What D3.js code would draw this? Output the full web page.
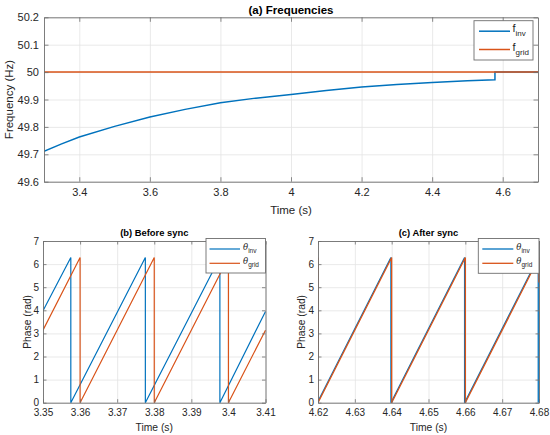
<!DOCTYPE html>
<html><head><meta charset="utf-8">
<script src="https://cdn.jsdelivr.net/npm/d3@7/dist/d3.min.js"></script>
<style>
html,body{margin:0;padding:0;background:#fff;}
svg{display:block;font-family:"Liberation Sans",Arial,Helvetica,sans-serif;}
</style></head>
<body>
<svg id="c" width="550" height="435"></svg>
<script>
// ---------- DATA ----------
// (a) Frequencies
const freqTime = [3.3, 3.35, 3.4, 3.5, 3.6, 3.7, 3.8, 3.9, 4.0, 4.1, 4.2, 4.3, 4.4, 4.5, 4.578, 4.578, 4.7];
const fInv     = [49.711, 49.738, 49.763, 49.802, 49.836, 49.864, 49.888, 49.905, 49.918, 49.933, 49.946, 49.955, 49.962, 49.968, 49.972, 50, 50];
const gridTime = [3.3, 4.7];
const fGrid    = [50, 50];
const freqXTicks = [3.4, 3.6, 3.8, 4.0, 4.2, 4.4, 4.6];
const freqYTicks = [49.6, 49.7, 49.8, 49.9, 50.0, 50.1, 50.2];

// (b) Before sync
const beforeInvTime  = [3.35, 3.3575, 3.3575, 3.3776, 3.3776, 3.3977, 3.3977, 3.41];
const beforeInv      = [3.98, 6.283, 0, 6.283, 0, 6.283, 0, 3.95];
const beforeGridTime = [3.35, 3.36, 3.36, 3.38, 3.38, 3.40, 3.40, 3.41];
const beforeGrid     = [3.14, 6.283, 0, 6.283, 0, 6.283, 0, 3.14];
const beforeXTicks   = [3.35, 3.36, 3.37, 3.38, 3.39, 3.40, 3.41];

// (c) After sync
const afterInvTime  = [4.62, 4.6398, 4.6398, 4.6598, 4.6598, 4.6798, 4.6798];
const afterInv      = [0.06, 6.283, 0, 6.283, 0, 6.283, 0];
const afterGridTime = [4.62, 4.62, 4.64, 4.64, 4.66, 4.66, 4.68, 4.68];
const afterGrid     = [6.283, 0, 6.283, 0, 6.283, 0, 6.283, 5.2];
const afterXTicks   = [4.62, 4.63, 4.64, 4.65, 4.66, 4.67, 4.68];

const phaseYTicks = [0, 1, 2, 3, 4, 5, 6, 7];

// ---------- DRAW ----------
const BLUE = "#0072BD", ORANGE = "#D95319", TXT = "#262626", AX = "#6e6e6e", GRID = "#e3e3e3";
const svg = d3.select("#c");
let clipId = 0;

function fmt(d){ return String(+d.toFixed(2)); }

function panel(o){
  const g = svg.append("g");
  const x = d3.scaleLinear().domain(o.xDomain).range([o.x0, o.x1]);
  const y = d3.scaleLinear().domain(o.yDomain).range([o.y1, o.y0]);
  const W = o.x1 - o.x0, H = o.y1 - o.y0;

  // grid
  g.append("g").attr("transform", `translate(0,${o.y1})`)
    .call(d3.axisBottom(x).tickValues(o.xTicks).tickSize(-H).tickFormat(""))
    .call(s => { s.select(".domain").remove(); s.selectAll("line").attr("stroke", GRID).attr("stroke-width", 0.8); });
  g.append("g").attr("transform", `translate(${o.x0},0)`)
    .call(d3.axisLeft(y).tickValues(o.yTicks).tickSize(-W).tickFormat(""))
    .call(s => { s.select(".domain").remove(); s.selectAll("line").attr("stroke", GRID).attr("stroke-width", 0.8); });

  // lines
  const id = "clip" + (clipId++);
  g.append("clipPath").attr("id", id).append("rect")
    .attr("x", o.x0).attr("y", o.y0 - 1).attr("width", W + 1).attr("height", H + 2);
  const lg = g.append("g").attr("clip-path", `url(#${id})`);
  o.series.forEach(s => {
    const pts = s.t.map((t, i) => [t, s.v[i]]);
    lg.append("path").datum(pts)
      .attr("fill", "none").attr("stroke", s.color).attr("stroke-width", s.w)
      .attr("stroke-linejoin", "miter")
      .attr("d", d3.line().x(d => x(d[0])).y(d => y(d[1])));
  });

  const tl = o.tickLen;
  // axes with inward ticks
  const styleAx = s => {
    s.select(".domain").attr("stroke", AX).attr("stroke-width", 0.9);
    s.selectAll(".tick line").attr("stroke", AX).attr("stroke-width", 0.8);
    s.selectAll(".tick text").attr("fill", TXT).attr("font-size", o.tickFont).attr("font-family", null);
  };
  g.append("g").attr("transform", `translate(0,${o.y1})`)
    .call(d3.axisBottom(x).tickValues(o.xTicks).tickSizeInner(-tl).tickSizeOuter(0).tickPadding(o.xPad).tickFormat(fmt))
    .call(styleAx);
  g.append("g").attr("transform", `translate(0,${o.y0})`)
    .call(d3.axisTop(x).tickValues(o.xTicks).tickSizeInner(-tl).tickSizeOuter(0).tickFormat(""))
    .call(styleAx);
  g.append("g").attr("transform", `translate(${o.x0},0)`)
    .call(d3.axisLeft(y).tickValues(o.yTicks).tickSizeInner(-tl).tickSizeOuter(0).tickPadding(o.yPad).tickFormat(fmt))
    .call(styleAx);
  g.append("g").attr("transform", `translate(${o.x1},0)`)
    .call(d3.axisRight(y).tickValues(o.yTicks).tickSizeInner(-tl).tickSizeOuter(0).tickFormat(""))
    .call(styleAx);

  // labels
  g.append("text").attr("x", (o.x0 + o.x1) / 2).attr("y", o.titleY)
    .attr("text-anchor", "middle").attr("font-weight", "bold").attr("font-size", o.titleFont).attr("fill", "#000")
    .text(o.title);
  g.append("text").attr("x", (o.x0 + o.x1) / 2).attr("y", o.xLabelY)
    .attr("text-anchor", "middle").attr("font-size", o.labelFont).attr("fill", TXT).text(o.xLabel);
  g.append("text").attr("transform", `translate(${o.yLabelX},${(o.y0 + o.y1) / 2}) rotate(-90)`)
    .attr("text-anchor", "middle").attr("font-size", o.labelFont).attr("fill", TXT).text(o.yLabel);

  // legend
  const L = o.legend;
  const lgd = g.append("g");
  lgd.append("rect").attr("x", L.x).attr("y", L.y).attr("width", L.w).attr("height", L.h)
    .attr("fill", "#fff").attr("stroke", AX).attr("stroke-width", 0.9);
  L.items.forEach((it, i) => {
    const yy = L.y + L.first + i * L.step;
    lgd.append("line").attr("x1", L.x + L.lx0).attr("x2", L.x + L.lx1).attr("y1", yy).attr("y2", yy)
      .attr("stroke", it.color).attr("stroke-width", it.w);
    const t = lgd.append("text").attr("x", L.x + L.tx).attr("y", yy + L.baseOff).attr("fill", TXT)
      .attr("font-size", L.font);
    t.append("tspan").attr("font-style", it.italic ? "italic" : null)
      .attr("font-family", it.italic ? "'DejaVu Serif', serif" : null).text(it.main);
    t.append("tspan").attr("font-size", L.subFont).attr("dy", L.subDy).text(it.sub);
  });
}

panel({
  x0: 44, x1: 538, y0: 17.3, y1: 181.7,
  xDomain: [3.3, 4.7], yDomain: [49.6, 50.2],
  xTicks: freqXTicks, yTicks: freqYTicks,
  tickLen: 4.5, tickFont: 11, xPad: 7, yPad: 5,
  title: "(a) Frequencies", titleY: 13.5, titleFont: 11.5,
  xLabel: "Time (s)", xLabelY: 214, labelFont: 11.5,
  yLabel: "Frequency (Hz)", yLabelX: 12.5,
  series: [
    {t: freqTime, v: fInv, color: BLUE, w: 1.5},
    {t: gridTime, v: fGrid, color: ORANGE, w: 1.5}
  ],
  legend: {x: 474, y: 20.7, w: 59, h: 39.3, first: 10.5, step: 18.3, lx0: 5, lx1: 36, tx: 38.5,
    baseOff: 1, font: 11, subFont: 8, subDy: 4,
    items: [{main: "f", sub: "inv", color: BLUE, w: 1.5}, {main: "f", sub: "grid", color: ORANGE, w: 1.5}]}
});

const phaseCommon = {
  y0: 241, y1: 402.7, yDomain: [0, 7], yTicks: phaseYTicks,
  tickLen: 3.5, tickFont: 10, xPad: 6.5, yPad: 4,
  titleY: 236, titleFont: 9.4,
  xLabelY: 431, labelFont: 10.3, xLabel: "Time (s)",
  yLabel: "Phase (rad)"
};

panel(Object.assign({}, phaseCommon, {
  x0: 43, x1: 265.5, xDomain: [3.35, 3.41], xTicks: beforeXTicks,
  title: "(b) Before sync", yLabelX: 30.5,
  series: [
    {t: beforeInvTime, v: beforeInv, color: BLUE, w: 1.2},
    {t: beforeGridTime, v: beforeGrid, color: ORANGE, w: 1.2}
  ],
  legend: {x: 206, y: 238.5, w: 59.5, h: 34.5, first: 10.5, step: 14.3, lx0: 3.5, lx1: 34, tx: 37,
    baseOff: 0.5, font: 8.5, subFont: 6.5, subDy: 3,
    items: [{main: "θ", sub: "inv", color: BLUE, w: 1.2, italic: true}, {main: "θ", sub: "grid", color: ORANGE, w: 1.2, italic: true}]}
}));

panel(Object.assign({}, phaseCommon, {
  x0: 318, x1: 539, xDomain: [4.62, 4.68], xTicks: afterXTicks,
  title: "(c) After sync", yLabelX: 305,
  series: [
    {t: afterInvTime, v: afterInv, color: BLUE, w: 1.3},
    {t: afterGridTime, v: afterGrid, color: ORANGE, w: 1.3}
  ],
  legend: {x: 478.3, y: 238.5, w: 60.7, h: 34.8, first: 10.5, step: 14.3, lx0: 4, lx1: 35, tx: 38,
    baseOff: 0.5, font: 8.5, subFont: 6.5, subDy: 3,
    items: [{main: "θ", sub: "inv", color: BLUE, w: 1.3, italic: true}, {main: "θ", sub: "grid", color: ORANGE, w: 1.3, italic: true}]}
}));
</script>
</body></html>
